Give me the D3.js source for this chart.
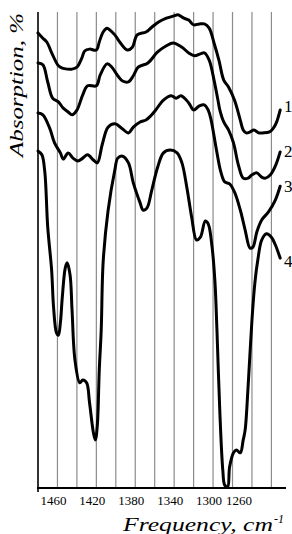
<!DOCTYPE html>
<html>
<head>
<meta charset="utf-8">
<script src="https://cdn.jsdelivr.net/npm/d3@7"></script>
<style>
  html, body { margin: 0; padding: 0; background: #fff; }
  svg { display: block; }
</style>
</head>
<body>
<div id="chart"></div>
<script>
// spectra: frequency (cm-1) and absorption (arbitrary %)
const freq1 = [1480,1475,1471,1465,1459,1455,1450,1445,1440,1435,1432,1427,1420,1417,1413,1409,1406,1401,1396,1388,1383,1378,1369,1363,1356,1348,1340,1336,1330,1325,1320,1314,1309,1304,1299,1294,1289,1284,1278,1272,1269,1266,1262,1258,1253,1249,1242,1238,1235,1231]
const abs1 = [95.6,94.5,93.7,91.0,88.7,88.2,88.0,88.0,88.4,90.3,91.8,92.2,92.0,93.7,95.8,96.6,96.2,95.2,93.7,92.0,92.6,95.2,95.8,96.8,97.9,98.7,99.2,99.4,98.7,98.3,97.3,97.5,97.5,96.6,93.5,89.9,85.7,84.2,81.5,77.3,75.2,74.6,74.8,75.2,74.6,74.6,74.8,75.6,76.7,79.4]

const freq2 = [1480,1475,1470,1465,1459,1454,1449,1445,1440,1434,1429,1420,1416,1409,1404,1398,1393,1387,1382,1377,1367,1357,1348,1341,1332,1325,1319,1313,1309,1304,1299,1295,1293,1289,1284,1279,1274,1269,1264,1260,1255,1250,1246,1241,1236,1231]
const abs2 = [89.3,88.9,85.3,81.9,81.1,79.8,79.0,78.4,79.4,82.6,84.5,84.5,86.8,89.1,88.4,86.6,85.5,85.3,86.6,88.4,89.3,91.6,92.9,93.5,92.6,91.4,90.8,91.2,91.4,89.9,85.7,81.5,79.4,76.9,75.2,72.5,67.9,65.1,65.1,65.8,66.2,65.3,65.1,65.8,67.6,70.6]

const freq3 = [1480,1475,1468,1463,1457,1454,1449,1444,1439,1434,1429,1423,1419,1414,1408,1401,1394,1387,1382,1375,1369,1364,1359,1351,1343,1338,1333,1325,1320,1314,1309,1305,1302,1297,1292,1288,1283,1278,1272,1267,1262,1259,1255,1250,1243,1236,1231]
const abs3 = [78.8,78.4,75.6,72.5,70.4,69.1,70.4,69.3,68.7,69.3,70.0,68.9,68.3,72.1,75.8,76.5,75.6,74.6,75.8,76.9,77.3,78.2,79.4,81.5,82.4,81.9,82.4,80.9,79.4,80.3,80.5,79.4,77.3,71.6,66.4,64.3,63.9,62.2,58.4,54.2,50.4,50.6,53.8,56.3,58.0,60.5,63.4]

const freq4 = [1480,1476,1473,1470,1466,1464,1461,1459,1457,1455,1452,1450,1447,1445,1442,1437,1434,1430,1427,1423,1421,1419,1417,1415,1413,1408,1401,1398,1393,1387,1382,1375,1372,1368,1363,1357,1351,1344,1337,1332,1327,1322,1317,1313,1308,1305,1301,1298,1296,1293,1290,1288,1285,1283,1279,1276,1272,1269,1267,1264,1260,1257,1254,1250,1245,1240,1236,1231]
const abs4 = [70.8,70.0,66.4,54.8,45.8,38.0,32.6,32.1,34.7,40.1,46.2,47.3,44.7,37.4,26.9,22.1,22.7,22.1,17.9,11.6,10.1,13.2,24.8,33.2,47.5,58.2,66.8,69.3,69.7,68.3,64.1,59.9,58.4,58.8,62.6,67.4,70.4,71.0,70.4,68.3,63.2,56.9,52.1,52.7,56.1,55.5,50.6,43.1,33.2,15.8,3.8,0.6,0.2,4.4,7.4,8.0,7.4,10.1,12.2,21.2,35.3,43.1,47.9,52.1,53.4,52.7,51.1,48.3]

const seriesNames = ['1','2','3','4']
const gridTicks = [1460,1440,1420,1400,1380,1360,1340,1320,1300,1280,1260,1240]
const tickLabels = [1460,1420,1380,1340,1300,1260]

const width = 292
const height = 534

const svg = d3.select('#chart')
              .append('svg')
              .attr('width', width)
              .attr('height', height)

const x = d3.scaleLinear().domain([1480, 1225]).range([38, 286])
const y = d3.scaleLinear().domain([0, 100]).range([488, 12])

// vertical grid
svg.selectAll('.grid')
   .data(gridTicks)
   .join('line')
   .attr('class','grid')
   .attr('x1', d => x(d))
   .attr('x2', d => x(d))
   .attr('y1', y(100))
   .attr('y2', y(0))
   .style('stroke', '#8c8c8c')
   .style('stroke-width', '1.2px')

// axes
svg.append('line')
   .attr('x1', x(1480)).attr('x2', x(1480))
   .attr('y1', y(100)).attr('y2', y(0) + 4)
   .style('stroke', 'black')
   .style('stroke-width', '1.6px')

svg.append('line')
   .attr('x1', x(1480) - 1).attr('x2', x(1225))
   .attr('y1', y(0)).attr('y2', y(0))
   .style('stroke', 'black')
   .style('stroke-width', '2px')

svg.selectAll('.tick-label')
   .data(tickLabels)
   .join('text')
   .attr('class','tick-label')
   .attr('x', d => x(d) + (d === 1260 ? -13 : -4))
   .attr('y', 505)
   .attr('text-anchor','middle')
   .attr('font-family','"Liberation Serif", "Times New Roman", serif')
   .attr('font-size','13px')
   .attr('fill','black')
   .text(d => d)

// axis titles
svg.append('text')
   .attr('x', 123)
   .attr('y', 531)
   .attr('textLength', 150)
   .attr('lengthAdjust','spacingAndGlyphs')
   .attr('font-family','"Liberation Serif", "Times New Roman", serif')
   .attr('font-style','italic')
   .attr('font-size','19px')
   .text('Frequency, cm')

svg.append('text')
   .attr('x', 274)
   .attr('y', 523)
   .attr('font-family','"Liberation Serif", "Times New Roman", serif')
   .attr('font-style','italic')
   .attr('font-size','12px')
   .text('-1')

svg.append('text')
   .attr('transform','translate(23,13) rotate(-90)')
   .attr('text-anchor','end')
   .attr('textLength', 144)
   .attr('lengthAdjust','spacingAndGlyphs')
   .attr('font-family','"Liberation Serif", "Times New Roman", serif')
   .attr('font-style','italic')
   .attr('font-size','19px')
   .text('Absorption, %')

// spectra
const spectra = [
  {name: seriesNames[0], f: freq1, a: abs1},
  {name: seriesNames[1], f: freq2, a: abs2},
  {name: seriesNames[2], f: freq3, a: abs3},
  {name: seriesNames[3], f: freq4, a: abs4}
]

const line = d3.line()
               .x(d => x(d[0]))
               .y(d => y(d[1]))
               .curve(d3.curveCatmullRom.alpha(0.5))

svg.selectAll('.spectrum')
   .data(spectra)
   .join('path')
   .attr('class','spectrum')
   .attr('d', s => line(s.f.map((f, i) => [f, s.a[i]])))
   .attr('fill','none')
   .attr('stroke','black')
   .attr('stroke-width', 3)
   .attr('stroke-linejoin','round')
   .attr('stroke-linecap','round')

// curve numbers at the right ends
const labelY = [112, 157, 192, 267]
svg.selectAll('.series-label')
   .data(spectra)
   .join('text')
   .attr('class','series-label')
   .attr('x', 284)
   .attr('y', (d,i) => labelY[i])
   .attr('font-family','"Liberation Serif", "Times New Roman", serif')
   .attr('font-size','17px')
   .attr('fill','black')
   .text(d => d.name)
</script>
</body>
</html>
